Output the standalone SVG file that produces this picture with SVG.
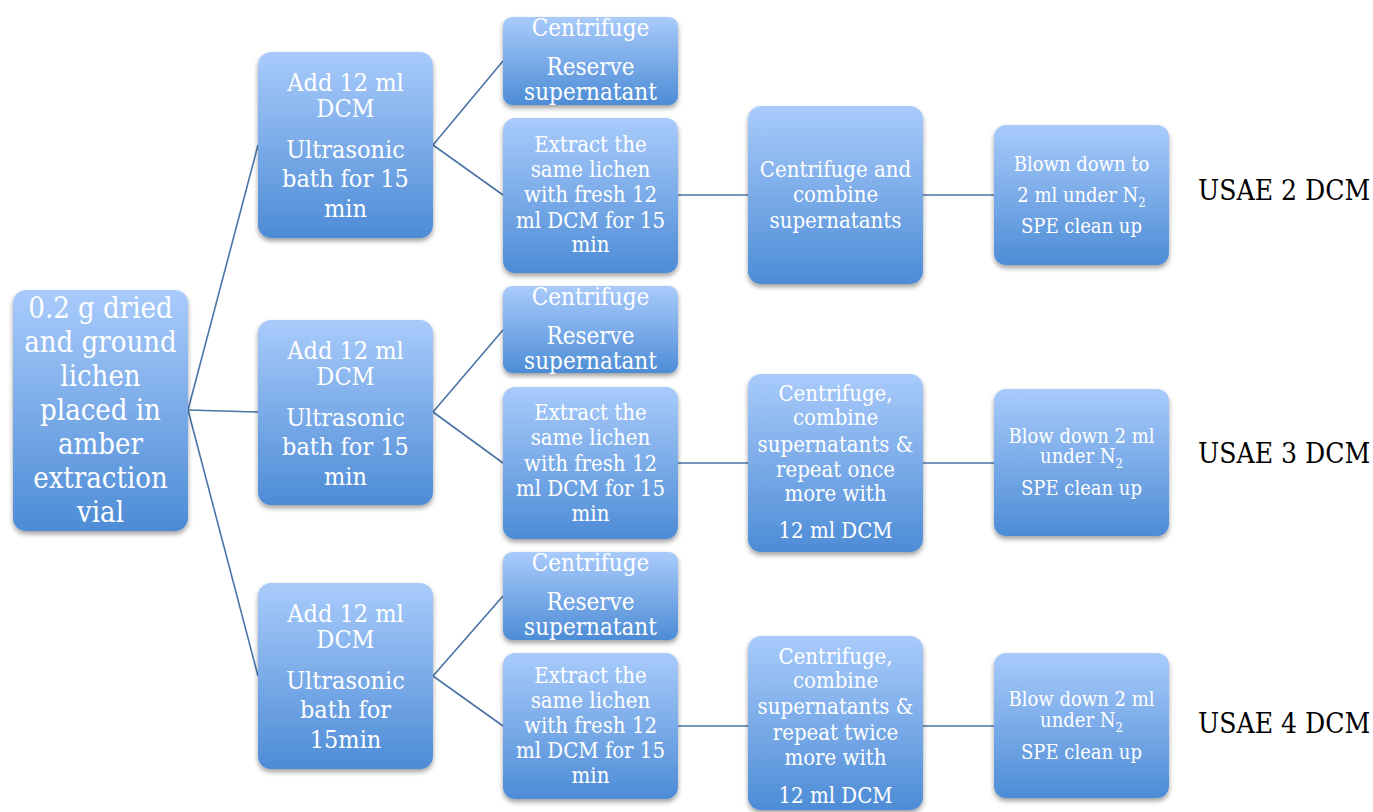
<svg xmlns="http://www.w3.org/2000/svg" width="1373" height="812" viewBox="0 0 1373 812">
<defs>
<linearGradient id="g" x1="0" y1="0" x2="0" y2="1">
<stop offset="0" stop-color="#A9CBFB"/>
<stop offset="1" stop-color="#4D8CD6"/>
</linearGradient>
<filter id="sh" x="-10%" y="-10%" width="120%" height="125%">
<feDropShadow dx="0" dy="3" stdDeviation="2.5" flood-color="#000" flood-opacity="0.38"/>
</filter>
</defs>
<style>
.box{fill:url(#g);filter:url(#sh);}
.t{fill:#fff;font-family:'DejaVu Serif Condensed','DejaVu Serif',serif;font-stretch:condensed;text-anchor:middle;}
.s29{font-size:29px;}
.s25{font-size:25px;}
.s24{font-size:24px;}
.s22{font-size:22px;}
.s20{font-size:20px;}
.lab{fill:#000;font-family:'DejaVu Serif Condensed','DejaVu Serif',serif;font-stretch:condensed;font-size:28px;}
.c{stroke:#4A73A8;stroke-width:1.6;fill:none;}
</style>
<rect width="1373" height="812" fill="#fff"/>
<g id="connectors">
<line class="c" x1="188" y1="410" x2="258" y2="145"/>
<line class="c" x1="188" y1="410" x2="258" y2="412"/>
<line class="c" x1="188" y1="410" x2="258" y2="676"/>
<line class="c" x1="433" y1="145" x2="503" y2="61"/>
<line class="c" x1="433" y1="145" x2="503" y2="195"/>
<line class="c" x1="433" y1="412" x2="503" y2="330"/>
<line class="c" x1="433" y1="412" x2="503" y2="463"/>
<line class="c" x1="433" y1="676" x2="503" y2="596"/>
<line class="c" x1="433" y1="676" x2="503" y2="726"/>
<line class="c" x1="678" y1="195" x2="748" y2="195"/>
<line class="c" x1="923" y1="195" x2="994" y2="195"/>
<line class="c" x1="678" y1="463" x2="748" y2="463"/>
<line class="c" x1="923" y1="463" x2="994" y2="463"/>
<line class="c" x1="678" y1="726" x2="748" y2="726"/>
<line class="c" x1="923" y1="726" x2="994" y2="726"/>
</g>
<g id="root">
<rect class="box" x="13" y="290" width="175" height="241" rx="13"/>
<text class="t s29" x="100.5" y="318">0.2 g dried</text>
<text class="t s29" x="100.5" y="352">and ground</text>
<text class="t s29" x="100.5" y="386">lichen</text>
<text class="t s29" x="100.5" y="420">placed in</text>
<text class="t s29" x="100.5" y="454">amber</text>
<text class="t s29" x="100.5" y="488">extraction</text>
<text class="t s29" x="100.5" y="522">vial</text>
</g>
<g id="add1">
<rect class="box" x="258" y="52" width="175" height="186" rx="13"/>
<text class="t s25" x="345.5" y="91">Add 12 ml</text>
<text class="t s25" x="345.5" y="117">DCM</text>
<text class="t s25" x="345.5" y="158">Ultrasonic</text>
<text class="t s25" x="345.5" y="187">bath for 15</text>
<text class="t s25" x="345.5" y="217">min</text>
</g>
<g id="add2">
<rect class="box" x="258" y="320" width="175" height="185" rx="13"/>
<text class="t s25" x="345.5" y="359">Add 12 ml</text>
<text class="t s25" x="345.5" y="385">DCM</text>
<text class="t s25" x="345.5" y="426">Ultrasonic</text>
<text class="t s25" x="345.5" y="455">bath for 15</text>
<text class="t s25" x="345.5" y="485">min</text>
</g>
<g id="add3">
<rect class="box" x="258" y="583" width="175" height="186" rx="13"/>
<text class="t s25" x="345.5" y="622">Add 12 ml</text>
<text class="t s25" x="345.5" y="648">DCM</text>
<text class="t s25" x="345.5" y="689">Ultrasonic</text>
<text class="t s25" x="345.5" y="718">bath for</text>
<text class="t s25" x="345.5" y="748">15min</text>
</g>
<g id="centrifuge1">
<rect class="box" x="503" y="17" width="175" height="88" rx="9"/>
<text class="t s24" x="590.5" y="36">Centrifuge</text>
<text class="t s24" x="590.5" y="75">Reserve</text>
<text class="t s24" x="590.5" y="100">supernatant</text>
</g>
<g id="centrifuge2">
<rect class="box" x="503" y="286" width="175" height="87" rx="9"/>
<text class="t s24" x="590.5" y="305">Centrifuge</text>
<text class="t s24" x="590.5" y="344">Reserve</text>
<text class="t s24" x="590.5" y="369">supernatant</text>
</g>
<g id="centrifuge3">
<rect class="box" x="503" y="552" width="175" height="88" rx="9"/>
<text class="t s24" x="590.5" y="571">Centrifuge</text>
<text class="t s24" x="590.5" y="610">Reserve</text>
<text class="t s24" x="590.5" y="635">supernatant</text>
</g>
<g id="extract1">
<rect class="box" x="503" y="118" width="175" height="155" rx="12"/>
<text class="t s22" x="590.5" y="152">Extract the</text>
<text class="t s22" x="590.5" y="177">same lichen</text>
<text class="t s22" x="590.5" y="202">with fresh 12</text>
<text class="t s22" x="590.5" y="228">ml DCM for 15</text>
<text class="t s22" x="590.5" y="252">min</text>
</g>
<g id="extract2">
<rect class="box" x="503" y="387" width="175" height="152" rx="12"/>
<text class="t s22" x="590.5" y="420">Extract the</text>
<text class="t s22" x="590.5" y="445">same lichen</text>
<text class="t s22" x="590.5" y="471">with fresh 12</text>
<text class="t s22" x="590.5" y="496">ml DCM for 15</text>
<text class="t s22" x="590.5" y="521">min</text>
</g>
<g id="extract3">
<rect class="box" x="503" y="653" width="175" height="146" rx="12"/>
<text class="t s22" x="590.5" y="683">Extract the</text>
<text class="t s22" x="590.5" y="708">same lichen</text>
<text class="t s22" x="590.5" y="733">with fresh 12</text>
<text class="t s22" x="590.5" y="758">ml DCM for 15</text>
<text class="t s22" x="590.5" y="783">min</text>
</g>
<g id="combine1">
<rect class="box" x="748" y="106" width="175" height="178" rx="13"/>
<text class="t s22" x="835.5" y="177">Centrifuge and</text>
<text class="t s22" x="835.5" y="202">combine</text>
<text class="t s22" x="835.5" y="228">supernatants</text>
</g>
<g id="combine2">
<rect class="box" x="748" y="374" width="175" height="178" rx="13"/>
<text class="t s22" x="835.5" y="401">Centrifuge,</text>
<text class="t s22" x="835.5" y="425">combine</text>
<text class="t s22" x="835.5" y="452">supernatants &amp;</text>
<text class="t s22" x="835.5" y="477">repeat once</text>
<text class="t s22" x="835.5" y="501">more with</text>
<text class="t s22" x="835.5" y="538">12 ml DCM</text>
</g>
<g id="combine3">
<rect class="box" x="748" y="636" width="175" height="174" rx="13"/>
<text class="t s22" x="835.5" y="664">Centrifuge,</text>
<text class="t s22" x="835.5" y="688">combine</text>
<text class="t s22" x="835.5" y="714">supernatants &amp;</text>
<text class="t s22" x="835.5" y="740">repeat twice</text>
<text class="t s22" x="835.5" y="765">more with</text>
<text class="t s22" x="835.5" y="803">12 ml DCM</text>
</g>
<g id="blow1">
<rect class="box" x="994" y="125" width="175" height="140" rx="12"/>
<text class="t s20" x="1081.5" y="171">Blown down to</text>
<text class="t s20" x="1081.5" y="202">2 ml under N<tspan font-size="13" dy="5">2</tspan></text>
<text class="t s20" x="1081.5" y="233">SPE clean up</text>
</g>
<g id="blow2">
<rect class="box" x="994" y="389" width="175" height="147" rx="12"/>
<text class="t s20" x="1081.5" y="443">Blow down 2 ml</text>
<text class="t s20" x="1081.5" y="463">under N<tspan font-size="13" dy="5">2</tspan></text>
<text class="t s20" x="1081.5" y="495">SPE clean up</text>
</g>
<g id="blow3">
<rect class="box" x="994" y="653" width="175" height="145" rx="12"/>
<text class="t s20" x="1081.5" y="706">Blow down 2 ml</text>
<text class="t s20" x="1081.5" y="727">under N<tspan font-size="13" dy="5">2</tspan></text>
<text class="t s20" x="1081.5" y="759">SPE clean up</text>
</g>
<g id="label1"><text class="lab" x="1198" y="200">USAE 2 DCM</text></g>
<g id="label2"><text class="lab" x="1198" y="463">USAE 3 DCM</text></g>
<g id="label3"><text class="lab" x="1198" y="733">USAE 4 DCM</text></g>
</svg>
